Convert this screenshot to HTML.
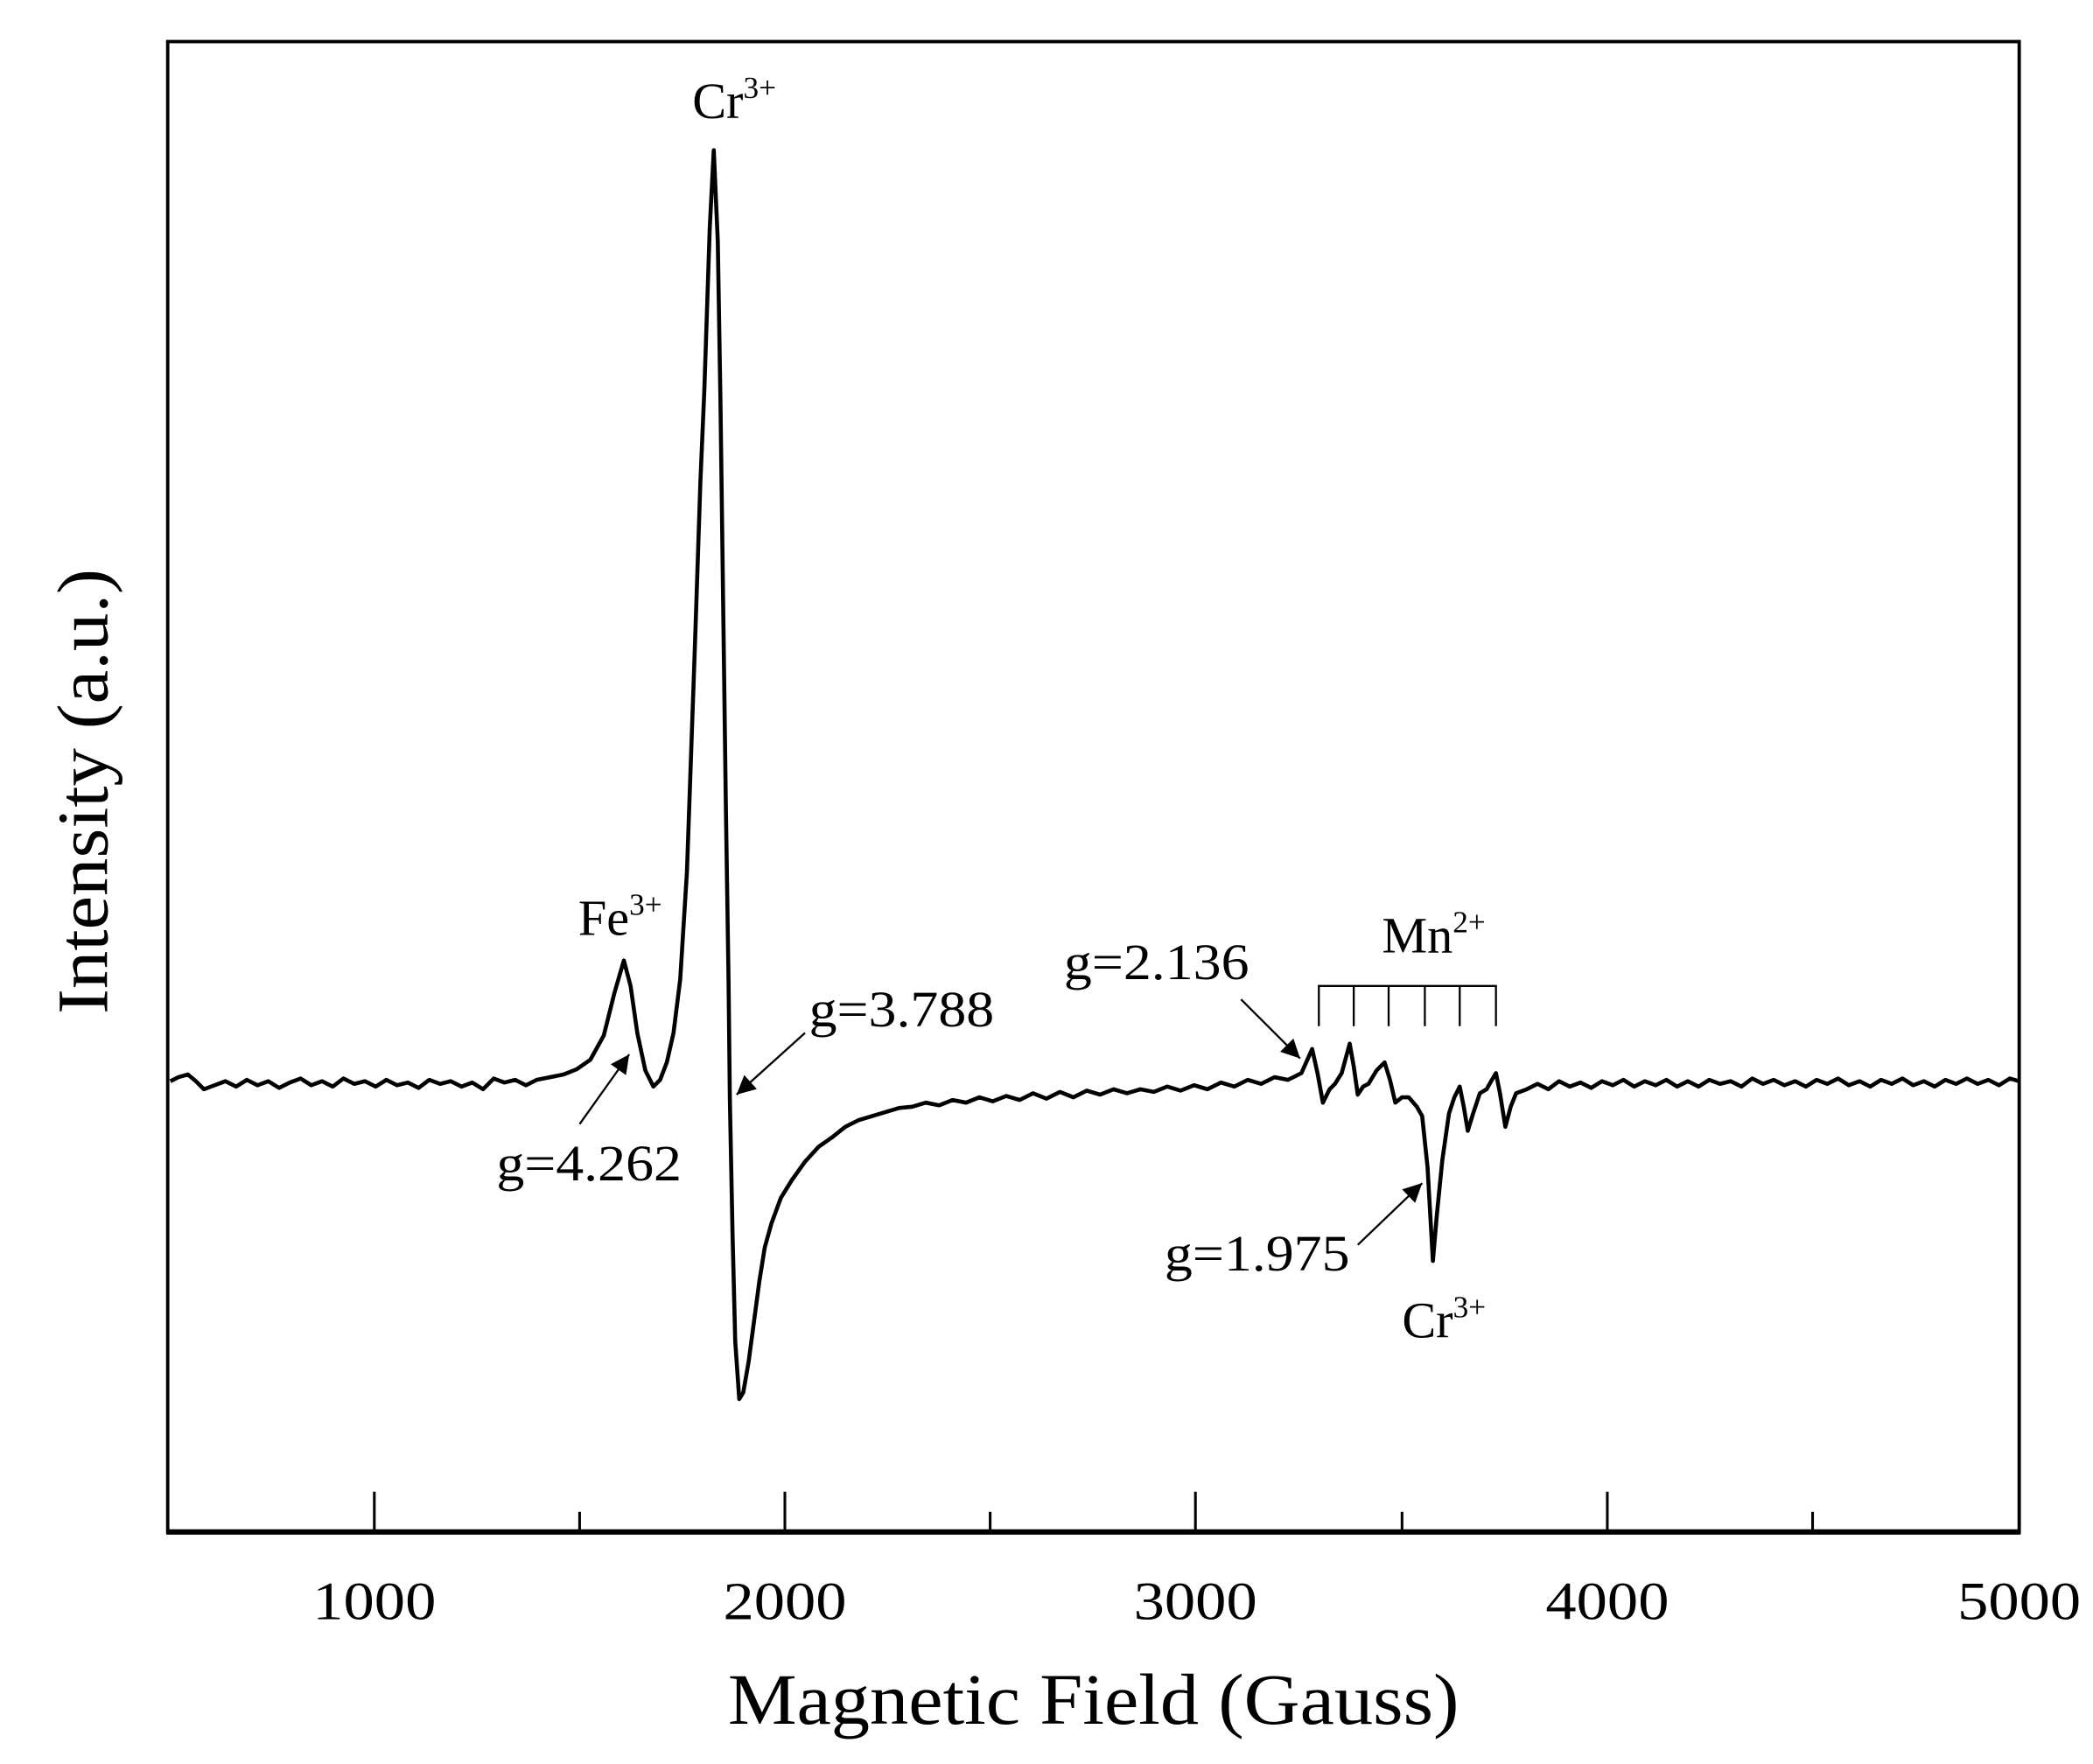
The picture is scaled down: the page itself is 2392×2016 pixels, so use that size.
<!DOCTYPE html>
<html><head><meta charset="utf-8"><style>
html,body{margin:0;padding:0;background:#fff}
svg{display:block}
text{font-family:"Liberation Serif",serif;fill:#000}
</style></head><body>
<svg width="2392" height="2016" viewBox="0 0 1560 1315" preserveAspectRatio="none" xmlns="http://www.w3.org/2000/svg">
<defs>
<marker id="a2" viewBox="0 0 10 10" refX="10" refY="5" markerWidth="20" markerHeight="14" markerUnits="userSpaceOnUse" orient="auto"><path d="M0,0 L10,5 L0,10 z" fill="#000"/></marker></defs>
<rect x="125" y="31" width="1380" height="1111" fill="none" stroke="#000" stroke-width="2.5"/>
<line x1="124" y1="1142" x2="1506" y2="1142" stroke="#000" stroke-width="4"/>
<g stroke="#000" stroke-width="2">
<line x1="279" y1="1142" x2="279" y2="1112"/><line x1="585" y1="1142" x2="585" y2="1112"/><line x1="891" y1="1142" x2="891" y2="1112"/><line x1="1198" y1="1142" x2="1198" y2="1112"/>
<line x1="432" y1="1142" x2="432" y2="1127"/><line x1="738" y1="1142" x2="738" y2="1127"/><line x1="1045" y1="1142" x2="1045" y2="1127"/><line x1="1351" y1="1142" x2="1351" y2="1127"/>
</g>
<g font-size="40" text-anchor="middle">
<text x="279" y="1207" textLength="92" lengthAdjust="spacingAndGlyphs">1000</text>
<text x="585" y="1207" textLength="92" lengthAdjust="spacingAndGlyphs">2000</text>
<text x="891" y="1207" textLength="92" lengthAdjust="spacingAndGlyphs">3000</text>
<text x="1198" y="1207" textLength="92" lengthAdjust="spacingAndGlyphs">4000</text>
<text x="1505" y="1207" textLength="92" lengthAdjust="spacingAndGlyphs">5000</text>
</g>
<text x="815" y="1285" font-size="54" text-anchor="middle" textLength="545" lengthAdjust="spacingAndGlyphs">Magnetic Field (Gauss)</text>
<text transform="translate(80,590) rotate(-90)" font-size="54" text-anchor="middle" textLength="332" lengthAdjust="spacingAndGlyphs">Intensity (a.u.)</text>
<polyline fill="none" stroke="#000" stroke-width="3" stroke-linejoin="round" points="127,806 133,803 140,801 146,806 152,812 160,809 168,806 176,810 184,805 192,809 200,806 208,811 216,807 224,804 232,809 240,806 248,810 256,804 264,808 272,806 280,810 288,805 296,809 304,807 312,811 320,805 328,808 336,806 344,810 352,807 360,812 368,804 376,807 384,805 392,809 400,805 410,803 420,801 430,797 440,790 450,772 458,740 465,716 470,735 475,770 481,798 487,810 492,805 497,792 502,770 507,730 512,650 518,480 522,360 525,290 529,170 532,112 535,180 537,300 539,450 541,600 543,730 544,820 546,920 548,1000 551,1043 554,1038 558,1015 562,985 566,955 570,930 575,912 582,893 590,880 600,866 610,855 620,848 630,840 640,835 650,832 660,829 670,826 680,825 690,822 700,824 710,820 720,822 730,818 740,821 750,817 760,820 770,815 780,819 790,814 800,818 810,813 820,816 830,812 840,815 850,812 860,814 870,810 880,813 890,809 900,812 910,807 920,810 930,805 940,808 950,803 960,805 970,800 978,782 982,800 986,822 991,812 995,808 1000,800 1006,778 1009,795 1012,816 1016,810 1020,808 1026,798 1032,792 1036,805 1040,822 1045,818 1050,818 1056,825 1060,832 1064,870 1068,940 1071,905 1075,865 1080,830 1084,818 1088,810 1091,825 1094,843 1098,830 1103,815 1108,812 1112,805 1115,800 1118,815 1122,840 1126,825 1130,815 1138,812 1146,808 1154,812 1162,806 1170,810 1178,807 1186,811 1194,806 1202,809 1210,805 1218,810 1226,806 1234,809 1242,805 1250,810 1258,806 1266,810 1274,805 1282,808 1290,806 1298,810 1306,804 1314,808 1322,805 1330,809 1338,806 1346,810 1354,805 1362,808 1370,804 1378,809 1386,806 1394,810 1402,805 1410,808 1418,804 1426,809 1434,806 1442,810 1450,805 1458,808 1466,804 1474,808 1482,805 1490,809 1498,804 1505,806"/>
<g font-size="38">
<text x="516" y="88">Cr<tspan font-size="23" dy="-15">3+</tspan></text>
<text x="431" y="697">Fe<tspan font-size="23" dy="-15">3+</tspan></text>
<text x="603" y="765" textLength="138" lengthAdjust="spacingAndGlyphs">g=3.788</text>
<text x="370" y="880" textLength="138" lengthAdjust="spacingAndGlyphs">g=4.262</text>
<text x="793" y="730" textLength="138" lengthAdjust="spacingAndGlyphs">g=2.136</text>
<text x="1030" y="710">Mn<tspan font-size="23" dy="-15">2+</tspan></text>
<text x="868" y="947" textLength="138" lengthAdjust="spacingAndGlyphs">g=1.975</text>
<text x="1045" y="997">Cr<tspan font-size="23" dy="-15">3+</tspan></text>
</g>
<g stroke="#000" stroke-width="1.5" fill="none">
<line x1="600" y1="770" x2="549" y2="816" marker-end="url(#a2)"/>
<line x1="432" y1="838" x2="469" y2="786" marker-end="url(#a2)"/>
<line x1="925" y1="745" x2="969" y2="789" marker-end="url(#a2)"/>
<line x1="1012" y1="928" x2="1060" y2="882" marker-end="url(#a2)"/>
<polyline points="983,765 983,735 1115,735 1115,765"/>
<line x1="1009" y1="735" x2="1009" y2="765"/><line x1="1035" y1="735" x2="1035" y2="765"/><line x1="1062" y1="735" x2="1062" y2="765"/><line x1="1088" y1="735" x2="1088" y2="765"/>
</g>
</svg>
</body></html>
